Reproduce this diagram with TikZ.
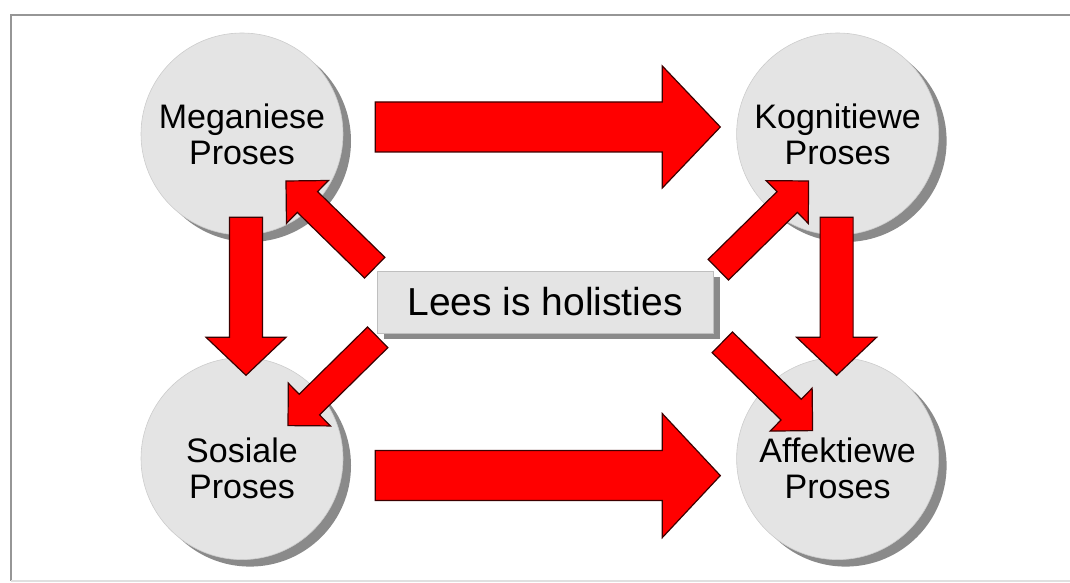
\documentclass[tikz,border=0pt]{standalone}
\usepackage{fontspec}
\setmainfont{Liberation Sans}
\usetikzlibrary{calc,positioning,shadows}

\definecolor{procfill}{RGB}{228,228,228}
\definecolor{shadowgray}{RGB}{138,138,138}
\definecolor{arrowred}{RGB}{255,0,0}
\definecolor{arrowline}{RGB}{60,0,0}
\definecolor{framegray}{RGB}{150,150,150}

% 太い矢印: #1 始点, #2 先端, #3 軸の半幅, #4 頭の半幅, #5 頭の長さ
\newcommand{\blockarr}[5]{%
  \coordinate (hb) at ($(#2)!#5!(#1)$);
  \draw[blockarrow] ($(#1)!#3!90:(#2)$) -- ($(hb)!#3!90:(#2)$) -- ($(hb)!#4!90:(#2)$)
    -- (#2) -- ($(hb)!#4!-90:(#2)$) -- ($(hb)!#3!-90:(#2)$) -- ($(#1)!#3!-90:(#2)$) -- cycle;
}

\begin{document}
\begin{tikzpicture}[
    x=1pt, y=1pt,
    proc/.style={circle, fill=procfill, draw=black!20, line width=0.6pt,
      minimum size=202pt, inner sep=0pt, align=center,
      font=\fontsize{34}{36}\selectfont,
      drop shadow={shadow xshift=8pt, shadow yshift=-7pt, fill=shadowgray, opacity=1}},
    core/.style={rectangle, fill=procfill, draw=black!25, line width=0.6pt,
      minimum width=336pt, minimum height=62pt,
      font=\fontsize{39}{42}\selectfont,
      drop shadow={shadow xshift=7pt, shadow yshift=-6pt, fill=shadowgray, opacity=1}},
    blockarrow/.style={fill=arrowred, draw=arrowline, line width=1.2pt, line join=miter}
  ]
    \useasboundingbox (0,0) rectangle (1070,583);

    % 枠
    \draw[framegray, line width=1.5pt] (1070,568) -- (11,568) -- (11,2);
    \draw[black!12, line width=1.5pt] (11,2) -- (1070,2);

    % ノード
    \node[proc] (meg) at (242,449) {Meganiese\\Proses};
    \node[proc, right=393pt of meg] (kog) {Kognitiewe\\Proses};
    \node[proc, below=122pt of meg] (sos) {\rule{0pt}{45pt}Sosiale\\Proses};
    \node[proc, right=393pt of sos] (aff) {\rule{0pt}{45pt}Affektiewe\\Proses};
    \node[core] (hol) at (545,281) {Lees is holisties};

    % 矢印の端
    \coordinate (mk1) at ($(meg.east)+(32,7)$);
    \coordinate (mk2) at ($(kog.west)+(-16,7)$);
    \coordinate (sa1) at ($(sos.east)+(32,-17)$);
    \coordinate (sa2) at ($(aff.west)+(-16,-17)$);
    \coordinate (ms1) at ($(meg.south)+(4,18)$);
    \coordinate (ms2) at ($(sos.north)+(4,-18)$);
    \coordinate (ka1) at ($(kog.south)+(-1,18)$);
    \coordinate (ka2) at ($(aff.north)+(-1,-18)$);
    \coordinate (hm1) at ($(hol.north west)+(-2,3)$);
    \coordinate (hm2) at ($(meg)+(44,-47)$);
    \coordinate (hs1) at ($(hol.south west)+(1,-4)$);
    \coordinate (hs2) at ($(sos)+(46,33)$);
    \coordinate (hk1) at ($(hol.north east)+(5,1)$);
    \coordinate (hk2) at ($(kog)+(-29,-47)$);
    \coordinate (ha1) at ($(hol.south east)+(9,-9)$);
    \coordinate (ha2) at ($(aff)+(-25,28)$);

    % 矢印
    \blockarr{mk1}{mk2}{25pt}{61pt}{58pt}
    \blockarr{sa1}{sa2}{25pt}{62pt}{58pt}
    \blockarr{ms1}{ms2}{16.5pt}{40pt}{38pt}
    \blockarr{ka1}{ka2}{16.5pt}{40pt}{38pt}
    \blockarr{hm1}{hm2}{14.5pt}{30pt}{30pt}
    \blockarr{hs1}{hs2}{14.5pt}{30pt}{30pt}
    \blockarr{hk1}{hk2}{14.5pt}{30pt}{30pt}
    \blockarr{ha1}{ha2}{14.5pt}{30pt}{30pt}

  \end{tikzpicture}
\end{document}
